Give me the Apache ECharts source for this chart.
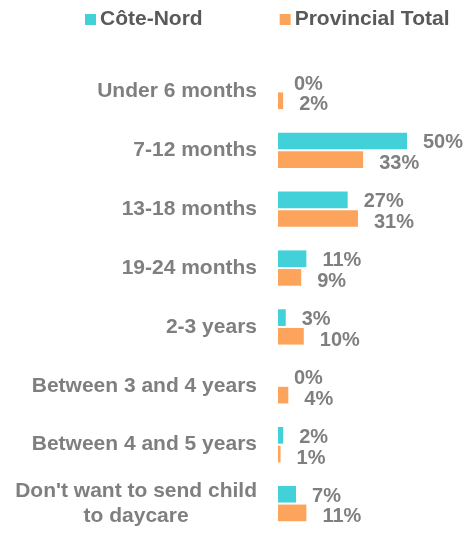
<!DOCTYPE html>
<html>
<head>
<meta charset="utf-8">
<script src="https://cdn.jsdelivr.net/npm/echarts@6/dist/echarts.min.js"></script>
<style>html,body{margin:0;padding:0;background:#fff}#c{width:474px;height:533px}</style>
</head>
<body>
<div id="c"></div>
<script>
const categories = ["Under 6 months","7-12 months","13-18 months","19-24 months","2-3 years","Between 3 and 4 years","Between 4 and 5 years","Don't want to send child\nto daycare"];
const seriesNames = ["Côte-Nord","Provincial Total"];
const coteNord = [0,50,27,11,3,0,2,7];
const provincial = [2,33,31,9,10,4,1,11];

const chart = echarts.init(document.getElementById('c'), null, {renderer:'canvas'});
const labelCommon = {
  show:true, position:'right', distance:16,
  formatter: p => p.value + '%',
  fontFamily:'Liberation Sans, Arial, sans-serif', fontWeight:'bold', fontSize:20, color:'#7f7f7f'
};
chart.setOption({
  animation:false,
  legend:{
    left:80, top:4, itemWidth:11, itemHeight:11, itemGap:77, icon:'rect',
    textStyle:{fontFamily:'Liberation Sans, Arial, sans-serif', fontWeight:'bold', fontSize:21, color:'#595959', padding:[0,0,0,-1]},
    data:seriesNames
  },
  grid:{left:278, top:62, width:180.6, height:477, containLabel:false},
  xAxis:{type:'value', min:0, max:70, show:false},
  yAxis:{
    type:'category', inverse:true, data:categories,
    axisLine:{show:false}, axisTick:{show:false}, splitLine:{show:false},
    axisLabel:{
      margin:21,
      formatter: v => v.split('\n').map(s => '{c|' + s + '}').join('\n'),
      rich:{c:{align:'center', fontFamily:'Liberation Sans, Arial, sans-serif', fontWeight:'bold', fontSize:21, color:'#7f7f7f', lineHeight:25}}
    }
  },
  series:[
    {name:seriesNames[0], type:'bar', data:coteNord, barGap:'12%', barCategoryGap:'40%',
     itemStyle:{color:'#42d1d8'}, label:Object.assign({}, labelCommon, {offset:[0,2]})},
    {name:seriesNames[1], type:'bar', data:provincial,
     itemStyle:{color:'#fda45c'}, label:Object.assign({}, labelCommon, {offset:[0,4]})}
  ]
});
</script>
</body>
</html>
